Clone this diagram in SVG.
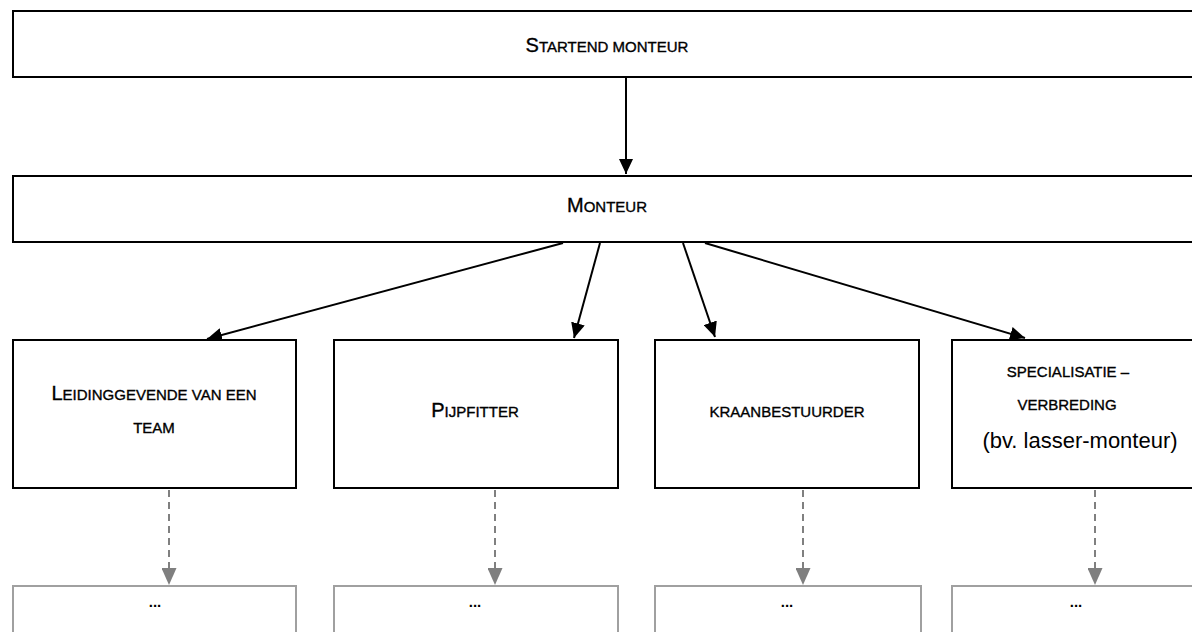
<svg xmlns="http://www.w3.org/2000/svg" width="1192" height="632" viewBox="0 0 1192 632">
  <style>
    .box { fill: #ffffff; stroke: #000000; stroke-width: 2; }
    .gbox { fill: #ffffff; stroke: #a0a0a0; stroke-width: 2; }
    .lbl { font-family: "Liberation Sans", Arial, sans-serif; font-size: 15px; fill: #000000; stroke: #000000; stroke-width: 0.35px; text-anchor: middle; }
    .big { font-size: 20px; }
    .plain { font-family: "Liberation Sans", Arial, sans-serif; font-size: 22px; fill: #000000; text-anchor: middle; }
    .dots { font-family: "Liberation Sans", Arial, sans-serif; font-size: 15px; font-weight: bold; fill: #000000; text-anchor: middle; }
    .conn { stroke: #000000; stroke-width: 2; fill: none; }
    .dash { stroke: #808080; stroke-width: 2; fill: none; stroke-dasharray: 7 5; }
  </style>
  <defs>
    <marker id="ah" markerUnits="userSpaceOnUse" markerWidth="15" markerHeight="14" refX="15" refY="7" orient="auto">
      <path d="M0,0 L15,7 L0,14 z" fill="#000000"/>
    </marker>
    <marker id="gh" markerUnits="userSpaceOnUse" markerWidth="17" markerHeight="15" refX="17" refY="7.5" orient="auto">
      <path d="M0,0 L17,7.5 L0,15 z" fill="#7f7f7f"/>
    </marker>
  </defs>
  <rect width="1192" height="632" fill="#ffffff"/>

  <g id="connectors">
    <line class="conn" x1="626" y1="78" x2="626" y2="174" marker-end="url(#ah)"/>
    <line class="conn" x1="563" y1="243" x2="207" y2="339" marker-end="url(#ah)"/>
    <line class="conn" x1="600" y1="243" x2="574" y2="338" marker-end="url(#ah)"/>
    <line class="conn" x1="683" y1="243" x2="715" y2="337" marker-end="url(#ah)"/>
    <line class="conn" x1="705" y1="243" x2="1025" y2="338" marker-end="url(#ah)"/>
    <line class="dash" x1="169" y1="490" x2="169" y2="585" marker-end="url(#gh)"/>
    <line class="dash" x1="495" y1="490" x2="495" y2="585" marker-end="url(#gh)"/>
    <line class="dash" x1="803" y1="490" x2="803" y2="585" marker-end="url(#gh)"/>
    <line class="dash" x1="1095" y1="490" x2="1095" y2="585" marker-end="url(#gh)"/>
  </g>

  <g id="node-startend">
    <rect class="box" x="13" y="11" width="1190" height="66"/>
    <text class="lbl" x="607" y="52"><tspan class="big">S</tspan>TARTEND MONTEUR</text>
  </g>
  <g id="node-monteur">
    <rect class="box" x="13" y="176" width="1190" height="66"/>
    <text class="lbl" x="607" y="212"><tspan class="big">M</tspan>ONTEUR</text>
  </g>
  <g id="node-leidinggevende">
    <rect class="box" x="13" y="340" width="283" height="148"/>
    <text class="lbl" x="154" y="400"><tspan class="big">L</tspan>EIDINGGEVENDE VAN EEN</text>
    <text class="lbl" x="154" y="433">TEAM</text>
  </g>
  <g id="node-pijpfitter">
    <rect class="box" x="334" y="340" width="284" height="148"/>
    <text class="lbl" x="475" y="417"><tspan class="big">P</tspan>IJPFITTER</text>
  </g>
  <g id="node-kraanbestuurder">
    <rect class="box" x="655" y="340" width="264" height="148"/>
    <text class="lbl" x="787" y="417">KRAANBESTUURDER</text>
  </g>
  <g id="node-specialisatie">
    <rect class="box" x="952" y="340" width="283" height="148"/>
    <text class="lbl" x="1068" y="377">SPECIALISATIE –</text>
    <text class="lbl" x="1067" y="410">VERBREDING</text>
    <text class="plain" x="1080" y="448">(bv. lasser-monteur)</text>
  </g>

  <g id="node-dots-1">
    <rect class="gbox" x="13" y="586" width="283" height="60"/>
    <text class="dots" x="155" y="607">...</text>
  </g>
  <g id="node-dots-2">
    <rect class="gbox" x="334" y="586" width="284" height="60"/>
    <text class="dots" x="475" y="607">...</text>
  </g>
  <g id="node-dots-3">
    <rect class="gbox" x="655" y="586" width="266" height="60"/>
    <text class="dots" x="787" y="607">...</text>
  </g>
  <g id="node-dots-4">
    <rect class="gbox" x="952" y="586" width="283" height="60"/>
    <text class="dots" x="1076" y="607">...</text>
  </g>
</svg>
